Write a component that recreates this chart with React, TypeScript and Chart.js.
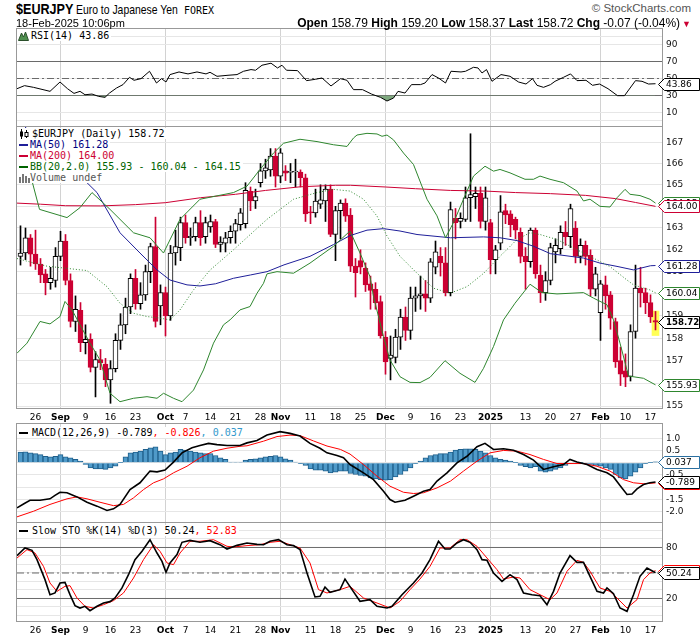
import React, { useEffect, useRef } from 'react';
import { Chart, registerables } from 'chart.js';

Chart.register(...registerables);

// ---------------- data ----------------
// Bars: trading days 2024-08-21 .. 2025-02-18 (index 0..127, Dec 25 and Jan 1 absent)
const opens = [
  161.70, 161.85, 162.55, 161.80, 161.35, 160.90, 160.50, 160.60, 161.70, 162.40,
  160.60, 158.75, 159.25, 157.80, 157.95, 156.70, 157.05, 156.85, 156.15, 156.65,
  157.90, 158.60, 159.40, 160.70, 159.55, 159.95, 161.00, 162.15, 159.45, 160.05,
  159.00, 161.85, 162.10, 163.25, 162.55, 162.60, 163.25, 162.60, 163.05, 163.30,
  162.25, 162.30, 162.55, 162.85, 163.15, 163.20, 164.70, 164.25, 165.10, 165.65,
  165.70, 166.35, 165.40, 165.65, 165.58, 165.60, 165.60, 165.33, 163.75, 163.70,
  164.10, 164.25, 164.80, 162.70, 163.80, 164.15, 163.60, 161.25, 161.50, 161.15,
  160.45, 160.20, 159.65, 158.05, 157.10, 157.15, 158.05, 158.95, 158.35, 159.80,
  159.90, 160.00, 159.80, 161.20, 161.70, 161.40, 160.05, 163.45, 163.30, 163.40,
  164.40, 164.45, 164.60, 163.30, 163.25, 161.55, 162.30, 163.80, 163.65, 163.40,
  162.80, 161.70, 161.45, 162.90, 160.85, 160.05, 160.60, 161.90, 162.05, 162.80,
  162.60, 163.00, 161.70, 162.20, 161.75, 160.20, 159.15, 160.40, 159.95, 158.75,
  157.00, 156.55, 156.30, 158.30, 160.25, 160.05, 159.60, 158.79,
];
const highs = [
  163.10, 163.00, 162.70, 162.90, 161.60, 161.10, 161.20, 162.10, 162.85, 162.70,
  160.90, 159.90, 159.60, 158.60, 158.20, 157.40, 157.50, 157.10, 157.00, 158.20,
  159.10, 159.80, 160.90, 161.10, 160.50, 161.30, 162.30, 163.50, 160.40, 160.30,
  162.20, 162.90, 163.50, 163.60, 163.00, 163.50, 163.80, 163.50, 163.60, 163.40,
  162.60, 162.80, 163.10, 163.40, 163.90, 165.10, 164.90, 164.80, 166.00, 166.20,
  166.70, 166.70, 166.70, 165.90, 166.00, 166.20, 165.70, 165.50, 164.00, 164.80,
  165.00, 165.00, 165.00, 164.00, 164.30, 164.35, 163.90, 161.60, 162.00, 161.40,
  160.80, 160.50, 159.90, 158.30, 158.10, 158.40, 159.30, 159.40, 160.30, 160.30,
  160.80, 160.60, 161.60, 162.40, 162.10, 162.10, 164.20, 163.90, 163.70, 164.90,
  167.40, 164.90, 164.90, 164.90, 163.40, 162.20, 164.50, 164.10, 163.80, 163.50,
  163.00, 162.10, 163.00, 163.00, 161.30, 161.00, 162.30, 162.50, 163.10, 163.30,
  164.10, 163.30, 162.50, 162.40, 162.00, 161.20, 160.60, 160.80, 160.10, 158.90,
  157.60, 157.30, 158.60, 161.30, 161.20, 160.25, 159.95, 159.20,
];
const lows = [
  161.30, 161.55, 161.25, 161.10, 160.50, 159.95, 160.20, 160.30, 161.50, 160.40,
  158.50, 158.30, 157.40, 157.30, 156.50, 155.40, 156.60, 155.85, 155.12, 156.50,
  157.50, 158.20, 159.10, 159.30, 159.30, 159.70, 160.50, 158.50, 158.60, 158.10,
  158.80, 161.30, 161.50, 162.30, 162.20, 162.40, 162.20, 162.30, 162.80, 162.10,
  161.90, 161.90, 162.30, 162.30, 162.90, 163.00, 163.80, 163.90, 164.90, 165.30,
  165.40, 164.90, 165.10, 165.20, 165.10, 164.90, 164.90, 163.30, 163.20, 163.50,
  163.90, 163.30, 162.60, 161.50, 162.50, 163.30, 161.00, 159.85, 160.90, 160.10,
  159.30, 159.30, 158.00, 156.40, 156.15, 156.90, 157.50, 157.90, 157.95, 159.20,
  159.30, 159.20, 159.60, 160.90, 160.80, 159.90, 159.90, 162.50, 163.00, 163.30,
  163.30, 163.90, 163.00, 162.90, 160.90, 160.90, 162.00, 163.20, 162.60, 162.50,
  161.40, 160.20, 161.20, 160.70, 159.60, 159.70, 160.40, 161.40, 161.80, 162.20,
  162.10, 161.40, 161.40, 161.30, 159.90, 159.90, 157.90, 159.30, 158.40, 156.70,
  155.90, 155.85, 156.10, 158.00, 159.40, 159.10, 158.70, 158.37,
];
const closes = [
  161.85, 162.55, 161.80, 161.35, 160.85, 160.50, 160.70, 161.70, 162.40, 160.60,
  158.75, 159.30, 157.80, 157.95, 156.70, 157.05, 156.90, 156.15, 156.65, 157.90,
  158.60, 159.40, 160.70, 159.55, 159.95, 161.00, 162.15, 158.75, 160.05, 159.00,
  161.85, 162.15, 163.25, 162.55, 162.62, 163.25, 162.55, 163.25, 163.30, 162.25,
  162.35, 162.55, 162.85, 163.20, 163.70, 164.75, 164.25, 164.45, 165.65, 165.80,
  166.35, 165.40, 166.50, 165.55, 165.62, 165.63, 165.33, 163.65, 163.70, 164.25,
  164.30, 164.80, 162.70, 163.80, 164.15, 163.55, 161.25, 160.95, 161.20, 160.40,
  160.15, 159.60, 158.10, 156.95, 157.25, 158.05, 158.95, 158.35, 159.80, 159.90,
  160.00, 159.80, 161.45, 161.90, 161.40, 160.05, 163.85, 163.25, 163.45, 164.40,
  164.55, 164.60, 163.30, 164.40, 161.55, 162.00, 163.75, 163.60, 163.15, 162.90,
  161.70, 161.45, 162.90, 160.90, 160.05, 160.60, 162.10, 162.20, 162.80, 162.60,
  163.90, 161.70, 162.20, 161.70, 160.20, 160.90, 160.45, 159.90, 158.90, 156.95,
  156.40, 156.27, 158.30, 160.25, 160.05, 159.60, 158.95, 158.72,
];

// x-axis labels (bar index -> text); month starts get a grid line and bold text
const xTickIdx = [3, 8, 13, 18, 23, 29, 33, 38, 43, 48, 52, 58, 63, 68, 73, 78, 83, 88, 94, 101, 106, 111, 116, 121, 126];
const xTickText = ['26', 'Sep', '9', '16', '23', 'Oct', '7', '14', '21', '28', 'Nov', '11', '18', '25', 'Dec', '9', '16', '23', '2025', '13', '20', '27', 'Feb', '10', '17'];
const monthIdx = [8, 29, 52, 73, 94, 116];

// overlays: [barIndex, value]
const ma200: [number, number][] = [[-0.7, 164.15], [4, 164.1], [9, 164.03], [16, 164.02], [23, 164.08], [29, 164.17], [36, 164.4], [43, 164.56], [49, 164.74], [56, 164.91], [63, 164.98], [66, 164.98], [73, 164.9], [79, 164.82], [86, 164.74], [93, 164.71], [99, 164.64], [106, 164.59], [113, 164.51], [119, 164.36], [123, 164.18], [127, 164.0]];
const ma50: [number, number][] = [[-0.7, 168.1], [0.9, 167.72], [13.3, 165.1], [15.3, 164.64], [19.9, 162.78], [23.9, 161.85], [27.3, 161.08], [29.9, 160.62], [33.3, 160.4], [35.9, 160.35], [39, 160.45], [42.6, 160.7], [46, 160.85], [49.3, 161.0], [52.7, 161.31], [57.9, 161.7], [62.6, 162.24], [65.9, 162.65], [69.3, 162.9], [72.6, 162.97], [75.9, 162.86], [79.3, 162.7], [86, 162.55], [92.6, 162.59], [95.9, 162.55], [99.3, 162.42], [102.6, 162.16], [106, 161.82], [112.6, 161.62], [115.9, 161.39], [119.3, 161.24], [122.6, 161.08], [126, 161.27], [127, 161.28]];
const bbUpper: [number, number][] = [[-0.7, 165.5], [2.3, 165.18], [3.8, 163.86], [9.3, 163.48], [11.9, 163.94], [14.3, 164.64], [17.9, 163.86], [22.6, 162.78], [25.9, 162.55], [28.6, 161.85], [31.9, 163.4], [35.9, 164.33], [42.6, 164.64], [45.3, 164.94], [47.9, 165.72], [50.6, 166.49], [52.6, 166.95], [55.9, 167.14], [59.3, 167.03], [62.6, 166.88], [65.3, 166.8], [66.6, 167.2], [67.3, 167.34], [69.3, 167.42], [71.3, 167.39], [72.3, 167.28], [73.3, 167.34], [74.6, 167.11], [76.6, 166.49], [78.6, 165.95], [81.3, 164.33], [83.3, 163.56], [85, 162.55], [86.6, 163.25], [88.6, 164.33], [90.6, 165.41], [92.9, 165.87], [94.6, 165.64], [95.9, 165.72], [97.9, 165.56], [100.9, 165.26], [102.6, 165.26], [103.9, 165.41], [105.9, 165.26], [108.6, 165.1], [111.3, 164.71], [112.6, 164.25], [113.9, 164.33], [115.9, 164.0], [117.9, 163.97], [119.3, 164.4], [120.9, 164.79], [121.9, 164.56], [123.9, 164.5], [125.9, 164.33], [127, 164.15]];
const bbMid: [number, number][] = [[-0.7, 161.6], [2.6, 161.4], [5.3, 161.25], [9.3, 161.15], [13.3, 161.05], [17.3, 160.32], [19.9, 159.57], [22.6, 159.12], [25.3, 158.97], [27.9, 158.9], [29.9, 158.82], [31.9, 159.27], [34.6, 160.17], [37.9, 161.07], [42.6, 162.0], [49.3, 163.4], [54.6, 164.33], [59.3, 164.64], [62.6, 164.79], [65.9, 164.71], [68.6, 164.33], [71.3, 163.55], [73.3, 162.63], [75.9, 161.7], [79.3, 160.93], [82.6, 160.25], [85.9, 160.02], [89.3, 160.32], [92.6, 160.92], [95.9, 161.7], [99.3, 162.47], [101.9, 162.78], [103.9, 162.7], [107.3, 162.47], [112.6, 161.85], [117.9, 161.23], [121.3, 160.62], [122.6, 160.4], [125.9, 160.17], [127, 160.04]];
const bbLower: [number, number][] = [[-0.7, 157.33], [1.3, 157.78], [3.9, 158.75], [5.9, 158.64], [7.9, 158.97], [8.9, 159.65], [10.3, 159.27], [11.9, 158.6], [13.9, 157.78], [15.9, 157.03], [17.9, 155.56], [19.9, 155.19], [22.6, 155.34], [25.3, 155.41], [27.3, 155.34], [28.6, 155.56], [30.6, 155.34], [32.3, 155.19], [34.6, 155.7], [36.6, 156.59], [38.6, 157.78], [40.6, 158.6], [41.9, 158.82], [43.9, 159.27], [45.9, 159.42], [47.3, 160.02], [48.6, 160.47], [49.3, 160.9], [51.3, 161.0], [54.6, 160.93], [57.9, 161.39], [62.6, 162.16], [65.9, 162.86], [67.9, 161.85], [69.9, 160.77], [70.6, 159.87], [72.6, 158.07], [73.9, 157.03], [75.9, 156.29], [77.9, 156.04], [79.9, 156.03], [81.9, 156.26], [84.9, 157.0], [87.9, 156.44], [90.9, 156.04], [92.6, 156.66], [94.6, 157.63], [96.6, 158.82], [98.9, 159.57], [101.9, 160.43], [104.3, 160.05], [107.3, 159.99], [112.6, 160.05], [114.6, 159.8], [117.3, 159.5], [118.6, 158.82], [119.9, 157.78], [121.6, 156.32], [124.6, 156.22], [127, 155.93]];

// RSI(14)
const rsi: [number, number][] = [[-0.7, 38.0], [0.8, 41.6], [2.6, 39.6], [5.9, 34.9], [7.9, 45.9], [9.4, 38.0], [10.7, 32.5], [11.9, 34.9], [12.9, 30.9], [14.3, 31.7], [15.6, 29.0], [16.9, 27.8], [17.8, 32.9], [19.2, 38.8], [20.5, 42.8], [21.8, 51.4], [22.7, 47.9], [24.1, 49.8], [25.8, 58.5], [27.2, 44.7], [28.2, 49.8], [29.1, 45.9], [29.9, 54.6], [31.7, 57.7], [33.5, 55.4], [35.3, 57.7], [37.1, 55.4], [37.9, 57.3], [39.3, 52.6], [41.5, 53.8], [43.3, 54.6], [44.6, 58.5], [46.1, 60.5], [47.0, 59.7], [48.3, 65.6], [50.1, 68.0], [51.4, 62.4], [52.3, 65.6], [53.2, 59.7], [55.4, 59.3], [57.2, 47.5], [59.0, 49.1], [60.3, 50.6], [62.1, 41.2], [64.0, 49.8], [65.3, 47.9], [66.6, 36.9], [68.4, 36.9], [70.2, 31.7], [72.0, 27.8], [73.3, 23.5], [74.6, 27.0], [75.5, 34.9], [76.9, 32.9], [78.2, 42.8], [80.0, 42.8], [80.9, 44.7], [82.3, 54.6], [83.6, 50.6], [85.0, 44.7], [86.1, 58.5], [88.1, 57.7], [89.0, 58.5], [90.6, 63.2], [91.5, 62.4], [92.3, 56.5], [93.2, 60.5], [94.3, 46.7], [96.1, 54.6], [97.9, 52.6], [99.6, 45.9], [101.1, 43.5], [102.4, 49.8], [103.3, 42.0], [104.6, 39.6], [106.0, 42.8], [106.9, 46.7], [108.6, 51.4], [110.0, 55.4], [111.3, 47.5], [113.1, 47.9], [114.4, 42.0], [115.8, 43.5], [117.5, 38.0], [119.4, 29.8], [120.8, 29.8], [123.0, 47.5], [124.3, 46.7], [125.6, 43.5], [127, 43.86]];
const rsiTicks = [0, 10, 30, 50, 70, 90, 100];
const rsiLabels = [10, 30, 50, 70, 90];
const rsiLevels = [30, 70];
const rsiMid = 50;

// MACD(12,26,9)
const macd: [number, number][] = [[-0.7, -1.85], [0.6, -1.69], [1.9, -1.54], [3.9, -1.54], [5.9, -1.48], [6.9, -1.34], [7.9, -1.21], [9.3, -1.23], [11.3, -1.4], [13.3, -1.62], [15.3, -1.78], [17.3, -1.96], [18.6, -1.89], [19.9, -1.71], [21.9, -1.1], [23.9, -0.82], [25.9, -0.34], [27.3, -0.37], [28.9, -0.3], [30.6, 0.03], [32.3, 0.41], [34.3, 0.62], [35.9, 0.71], [37.6, 0.8], [39.3, 0.75], [41.3, 0.71], [43.9, 0.71], [45.3, 0.82], [47.3, 0.92], [49.3, 1.14], [51.9, 1.28], [53.9, 1.21], [55.9, 1.1], [57.9, 0.8], [59.9, 0.6], [61.3, 0.41], [63.3, 0.3], [64.6, 0.21], [65.9, -0.07], [68.6, -0.41], [70.6, -0.69], [72.6, -1.17], [73.9, -1.51], [74.9, -1.62], [75.9, -1.58], [76.9, -1.54], [78.6, -1.37], [80.6, -1.17], [81.9, -1.1], [83.3, -0.75], [85.3, -0.41], [87.3, 0.0], [89.3, 0.27], [91.3, 0.66], [92.9, 0.8], [94.6, 0.55], [96.6, 0.58], [98.6, 0.52], [100.6, 0.34], [102.6, 0.11], [104.6, -0.27], [106.6, -0.16], [108.6, -0.07], [109.9, 0.14], [111.3, 0.03], [113.3, -0.07], [115.3, -0.27], [117.3, -0.41], [118.6, -0.58], [119.9, -0.93], [121.3, -1.3], [122.3, -1.28], [123.3, -1.07], [124.6, -0.89], [125.9, -0.82], [127, -0.789]];
const macdSignal: [number, number][] = [[-0.7, -2.22], [2.6, -1.99], [5.9, -1.71], [9.3, -1.48], [11.3, -1.4], [13.3, -1.48], [15.9, -1.62], [18.6, -1.76], [20.6, -1.71], [22.6, -1.44], [24.6, -1.1], [26.6, -0.82], [28.6, -0.66], [30.6, -0.41], [33.3, -0.14], [35.9, 0.21], [38.6, 0.48], [41.3, 0.6], [43.9, 0.68], [45.3, 0.7], [48.6, 0.89], [51.3, 1.08], [53.9, 1.14], [55.9, 1.12], [58.6, 0.9], [61.3, 0.69], [64, 0.55], [65.9, 0.36], [68.6, -0.07], [71.3, -0.55], [73.9, -0.96], [76.6, -1.21], [78.6, -1.26], [80.6, -1.23], [83.3, -1.03], [86, -0.75], [88.6, -0.34], [91.3, 0.07], [93.9, 0.41], [96.6, 0.51], [99.3, 0.48], [101.9, 0.34], [104.6, 0.14], [107.3, -0.03], [109.9, -0.03], [112.6, -0.03], [115.3, -0.14], [117.9, -0.34], [120.6, -0.69], [122.6, -0.82], [124.6, -0.86], [127, -0.826]];
const macdHist = [
  0.44, 0.45, 0.41, 0.38, 0.34, 0.27, 0.25, 0.27, 0.34, 0.25,
  0.21, 0.14, 0.07, -0.07, -0.21, -0.25, -0.25, -0.27, -0.21, -0.14,
  0.01, 0.25, 0.41, 0.44, 0.48, 0.55, 0.62, 0.66, 0.48, 0.34,
  0.41, 0.44, 0.55, 0.52, 0.48, 0.44, 0.41, 0.38, 0.38, 0.30,
  0.21, 0.14, 0.03, 0.03, 0.03, 0.11, 0.14, 0.16, 0.21, 0.25,
  0.27, 0.30, 0.25, 0.16, 0.11, 0.03, -0.03, -0.11, -0.25, -0.30,
  -0.30, -0.34, -0.41, -0.38, -0.34, -0.34, -0.44, -0.48, -0.52, -0.55,
  -0.62, -0.66, -0.69, -0.71, -0.69, -0.58, -0.48, -0.34, -0.21, -0.03,
  0.07, 0.21, 0.30, 0.34, 0.38, 0.38, 0.44, 0.52, 0.55, 0.58,
  0.58, 0.55, 0.48, 0.41, 0.30, 0.21, 0.14, 0.11, 0.07, 0.01,
  -0.11, -0.16, -0.21, -0.16, -0.34, -0.38, -0.34, -0.27, -0.21, -0.11,
  -0.03, -0.01, 0.01, -0.03, -0.07, -0.11, -0.14, -0.21, -0.27, -0.48,
  -0.62, -0.66, -0.55, -0.38, -0.21, -0.03, 0.01, 0.037,
];
const macdTicks = [-2, -1.5, -1, -0.5, 0, 0.5, 1];

// Slow STO %K(14) %D(3)
const stoK: [number, number][] = [[-0.7, 70.4], [0.9, 79.4], [2.3, 76.7], [3.3, 65.7], [4.9, 42.2], [5.9, 24.5], [6.9, 26.5], [7.9, 38.2], [8.9, 39.0], [9.9, 24.5], [10.9, 11.6], [11.9, 8.8], [12.9, 10.8], [13.9, 5.7], [15.3, 10.8], [16.6, 14.7], [17.9, 16.3], [18.9, 20.6], [20.3, 32.4], [21.6, 48.0], [22.9, 65.7], [24.3, 75.5], [25.9, 89.2], [27.3, 73.5], [28.3, 63.7], [29.1, 50.8], [29.9, 61.8], [31.3, 71.6], [32.3, 86.1], [33.9, 88.4], [35.9, 86.1], [37.9, 88.0], [39.9, 83.3], [41.3, 78.2], [43.3, 82.5], [45.3, 85.3], [47.3, 83.7], [48.6, 83.3], [49.9, 87.3], [51.6, 89.2], [53.3, 83.3], [54.6, 82.2], [55.9, 77.5], [57.3, 50.0], [58.9, 21.8], [59.9, 22.5], [60.9, 33.5], [61.9, 27.3], [63.9, 30.4], [64.9, 42.9], [65.9, 34.0], [67.9, 16.7], [69.9, 18.6], [71.3, 10.8], [73.3, 8.8], [74.3, 10.8], [76.3, 24.5], [78.6, 38.2], [80.3, 50.0], [81.9, 65.7], [83.6, 87.3], [84.9, 78.2], [85.9, 78.2], [87.3, 85.3], [88.6, 89.2], [89.9, 86.1], [91.3, 77.5], [92.3, 65.7], [93.3, 64.9], [94.6, 50.0], [96.3, 40.2], [97.9, 48.0], [99.3, 42.2], [100.6, 26.5], [102.3, 24.5], [103.9, 23.3], [105.3, 12.7], [106.6, 28.4], [107.9, 50.0], [109.9, 70.4], [111.3, 62.5], [112.6, 62.5], [113.9, 46.1], [115.3, 28.4], [116.6, 26.5], [117.3, 32.4], [118.6, 25.7], [119.9, 8.8], [121.3, 4.9], [122.6, 24.5], [123.9, 46.1], [125.3, 55.9], [127, 50.24]];
const stoD: [number, number][] = [[-0.7, 67.6], [1.3, 77.5], [2.9, 73.5], [4.6, 57.8], [5.9, 38.2], [7.3, 28.4], [8.9, 34.3], [9.9, 35.1], [11.3, 20.6], [12.9, 10.8], [14.6, 8.8], [16.6, 12.7], [18.6, 17.5], [20.6, 26.5], [22.6, 44.1], [24.6, 65.7], [26.6, 83.3], [27.9, 75.5], [29.3, 61.8], [30.6, 59.8], [31.9, 73.5], [33.9, 87.3], [35.9, 87.3], [38.6, 89.2], [41.3, 81.4], [42.6, 80.6], [45.3, 82.2], [47.9, 83.3], [49.9, 86.1], [51.9, 87.3], [53.9, 83.3], [55.9, 79.4], [57.9, 61.8], [59.6, 30.4], [61.3, 26.5], [63.9, 30.4], [65.9, 34.3], [68.6, 20.6], [71.3, 14.7], [73.9, 8.8], [75.9, 16.7], [77.9, 30.4], [79.9, 42.9], [81.9, 57.8], [83.9, 79.4], [85.9, 79.4], [87.9, 89.2], [89.3, 89.2], [91.3, 81.4], [93.3, 67.6], [95.3, 53.9], [96.6, 42.9], [98.6, 45.3], [99.9, 44.1], [101.9, 30.4], [103.9, 24.5], [105.9, 18.6], [107.3, 26.5], [109.3, 52.0], [111.3, 64.9], [112.6, 62.5], [113.9, 52.0], [115.9, 32.4], [117.9, 28.4], [119.3, 20.6], [121.3, 8.8], [123.3, 18.6], [124.6, 42.2], [125.9, 50.0], [127, 52.83]];
const stoTicks = [0, 10, 20, 30, 40, 50, 60, 70, 80, 90, 100];
const stoLabels = [20, 50, 80];
const stoLevels = [20, 80];
const stoMid = 50;

const priceTicks = [155, 156, 157, 158, 159, 160, 161, 162, 163, 164, 165, 166, 167];

// ---------------- styling ----------------
const X_MIN = -0.7;
const X_MAX = 128.5;
const PAD_L = 17;
const AXIS_W = 37;
const TICK_FONT = '"DejaVu Sans", sans-serif';
const MONO = '"DejaVu Sans Mono", monospace';
const SANS = '"Liberation Sans", Arial, sans-serif';
const RED = '#cc0033';
const NAVY = '#1f1f99';
const GREEN = '#2e862e';
const HIST_BLUE = '#4f9ac9';

const last = (a: [number, number][]) => a[a.length - 1][1];
const pts = (a: [number, number][]) => a.map(([x, y]) => ({ x, y }));
const hline = (v: number) => [{ x: X_MIN, y: v }, { x: X_MAX, y: v }];

const framePlugin = {
  id: 'frame',
  afterDatasetsDraw(chart: any) {
    const { ctx, chartArea: a } = chart;
    ctx.save();
    ctx.strokeStyle = '#999';
    ctx.lineWidth = 1;
    const l = Math.round(a.left) - 0.5;
    const r = Math.round(a.right) - 0.5;
    const t = Math.round(a.top) - 0.5;
    const b = Math.round(a.bottom) - 0.5;
    ctx.strokeRect(l, t, r - l, b - t);
    ctx.restore();
  },
};

const tagPlugin = {
  id: 'tags',
  afterDraw(chart: any, _args: any, opts: any) {
    const items = (opts && opts.items) || [];
    const { ctx, chartArea } = chart;
    const ys = chart.scales.y;
    const right = chartArea.right;
    ctx.save();
    for (const t of items) {
      const py = Math.round(ys.getPixelForValue(t.value)) + 0.5;
      const h = 12;
      const x0 = right - 4.5;
      const x1 = right + 1.5;
      const x2 = 699.5;
      ctx.beginPath();
      ctx.moveTo(x0, py);
      ctx.lineTo(x1, py - h / 2);
      ctx.lineTo(x2, py - h / 2);
      ctx.lineTo(x2, py + h / 2);
      ctx.lineTo(x1, py + h / 2);
      ctx.closePath();
      ctx.fillStyle = '#fff';
      ctx.fill();
      ctx.strokeStyle = t.color;
      ctx.lineWidth = 1;
      ctx.stroke();
      ctx.fillStyle = '#000';
      ctx.font = t.bold ? `bold 8.6px ${TICK_FONT}` : `9px ${TICK_FONT}`;
      ctx.textBaseline = 'middle';
      ctx.textAlign = 'left';
      ctx.fillText(t.text, x1 + 1.5, py + 0.5);
    }
    ctx.restore();
  },
};

function xAxis(showLabels: boolean) {
  return {
    type: 'linear',
    min: X_MIN,
    max: X_MAX,
    offset: false,
    afterBuildTicks: (s: any) => {
      s.ticks = (showLabels ? xTickIdx : monthIdx).map((v) => ({ value: v }));
    },
    afterFit: (s: any) => {
      s.height = showLabels ? 17 : 0;
    },
    grid: {
      offset: false,
      drawTicks: false,
      lineWidth: 1,
      color: (c: any) => (c.tick && monthIdx.includes(c.tick.value) ? '#d2d2d2' : 'rgba(0,0,0,0)'),
    },
    border: { display: false },
    ticks: {
      display: showLabels,
      autoSkip: false,
      maxRotation: 0,
      padding: 3,
      color: '#000',
      font: (c: any) => ({ family: TICK_FONT, size: 9, weight: c.tick && monthIdx.includes(c.tick.value) ? 'bold' : 'normal' }),
      callback: (v: any) => {
        const k = xTickIdx.indexOf(Number(v));
        return k >= 0 ? xTickText[k] : '';
      },
    },
  };
}

function yAxis(o: { type?: string; min: number; max: number; ticks: number[]; label: (v: number) => string }) {
  return {
    type: o.type || 'linear',
    position: 'right',
    min: o.min,
    max: o.max,
    beginAtZero: false,
    afterBuildTicks: (s: any) => {
      s.ticks = o.ticks.map((v) => ({ value: v }));
    },
    afterFit: (s: any) => {
      s.width = AXIS_W;
    },
    grid: { drawTicks: false, color: '#e6e6e6', lineWidth: 1 },
    border: { display: false },
    ticks: {
      padding: 3,
      autoSkip: false,
      color: '#111',
      font: { family: TICK_FONT, size: 9 },
      callback: (v: any) => o.label(Number(v)),
    },
  };
}

function baseOptions(y: any, showX: boolean, tags: any[]) {
  return {
    responsive: false,
    animation: false,
    events: [],
    layout: { padding: { left: PAD_L, right: 0, top: 10, bottom: showX ? 0 : 10 } },
    plugins: { legend: { display: false }, tooltip: { enabled: false }, tags: { items: tags } },
    scales: { x: xAxis(showX), y },
  };
}

const lineDs = (data: any[], color: string, width = 1, extra: any = {}) => ({
  type: 'line',
  data,
  borderColor: color,
  borderWidth: width,
  pointRadius: 0,
  tension: 0,
  fill: false,
  ...extra,
});

function rsiConfig() {
  return {
    type: 'line',
    data: {
      datasets: [
        lineDs(pts(rsi), '#000', 1, { fill: { target: { value: 30 }, above: 'rgba(0,0,0,0)', below: '#7fa97f' } }),
        ...rsiLevels.map((v) => lineDs(hline(v), '#6a6a6a', 1)),
        lineDs(hline(rsiMid), '#6a6a6a', 1, { borderDash: [7, 3, 2, 3] }),
      ],
    },
    options: baseOptions(
      yAxis({ min: -7.06, max: 108.24, ticks: rsiTicks, label: (v) => (rsiLabels.includes(v) ? String(v) : '') }),
      false,
      [{ value: last(rsi), text: last(rsi).toFixed(2), color: '#000' }]
    ),
    plugins: [framePlugin, tagPlugin],
  };
}

function mainConfig() {
  const up = opens.map((o, i) => closes[i] >= o);
  return {
    type: 'bar',
    data: {
      datasets: [
        lineDs(pts(bbUpper), GREEN, 1),
        lineDs(pts(bbMid), GREEN, 1, { borderDash: [1, 2] }),
        lineDs(pts(bbLower), GREEN, 1),
        lineDs(pts(ma50), NAVY, 1),
        lineDs(pts(ma200), RED, 1),
        {
          type: 'bar',
          data: opens.map((o, i) => ({ x: i, y: [o, closes[i]] })),
          backgroundColor: up.map((u) => (u ? '#fff' : RED)),
          borderColor: up.map((u) => (u ? '#000' : RED)),
          borderWidth: 1,
          borderSkipped: false,
          barThickness: 5,
          grouped: false,
          minBarLength: 1,
        },
        {
          type: 'bar',
          data: lows.map((l, i) => ({ x: i, y: [l, highs[i]] })),
          backgroundColor: up.map((u) => (u ? '#000' : RED)),
          borderWidth: 0,
          barThickness: 1,
          grouped: false,
        },
        {
          type: 'bar',
          data: [{ x: 127, y: [lows[127] - 0.25, highs[127] + 0.02] }],
          backgroundColor: '#ffff55',
          borderWidth: 0,
          barThickness: 7,
          grouped: false,
        },
      ],
    },
    options: baseOptions(
      yAxis({ type: 'logarithmic', min: 154.87, max: 167.72, ticks: priceTicks, label: (v) => String(v) }),
      true,
      [
        { value: last(bbUpper), text: last(bbUpper).toFixed(2), color: GREEN },
        { value: last(ma200), text: last(ma200).toFixed(2), color: RED },
        { value: last(ma50), text: last(ma50).toFixed(2), color: NAVY },
        { value: last(bbMid), text: last(bbMid).toFixed(2), color: GREEN },
        { value: last(bbLower), text: last(bbLower).toFixed(2), color: GREEN },
        { value: closes[127], text: closes[127].toFixed(2), color: '#000', bold: true },
      ]
    ),
    plugins: [framePlugin, tagPlugin],
  };
}

function macdConfig() {
  return {
    type: 'bar',
    data: {
      datasets: [
        lineDs(pts(macd), '#000', 1.6),
        lineDs(pts(macdSignal), '#ff0000', 1),
        {
          type: 'bar',
          data: macdHist.map((v, i) => ({ x: i, y: v })),
          backgroundColor: HIST_BLUE,
          borderColor: '#1f5f8b',
          borderWidth: 1,
          borderSkipped: 'start',
          barThickness: 5,
          grouped: false,
        },
      ],
    },
    options: baseOptions(
      yAxis({ min: -2.473, max: 1.596, ticks: macdTicks, label: (v) => v.toFixed(1) }),
      false,
      [
        { value: last(macdSignal), text: last(macdSignal).toFixed(3), color: '#ff0000' },
        { value: last(macd), text: last(macd).toFixed(3), color: '#000' },
        { value: macdHist[macdHist.length - 1], text: macdHist[macdHist.length - 1].toFixed(3), color: '#2a6fa0' },
      ]
    ),
    plugins: [framePlugin, tagPlugin],
  };
}

function stoConfig() {
  return {
    type: 'line',
    data: {
      datasets: [
        lineDs(pts(stoK), '#000', 1.6),
        lineDs(pts(stoD), '#ff0000', 1),
        ...stoLevels.map((v) => lineDs(hline(v), '#6a6a6a', 1)),
        lineDs(hline(stoMid), '#6a6a6a', 1, { borderDash: [7, 3, 2, 3] }),
      ],
    },
    options: baseOptions(
      yAxis({ min: -7.65, max: 108.82, ticks: stoTicks, label: (v) => (stoLabels.includes(v) ? String(v) : '') }),
      true,
      [
        { value: last(stoD), text: last(stoD).toFixed(2), color: '#ff0000' },
        { value: last(stoK), text: last(stoK).toFixed(2), color: '#000' },
      ]
    ),
    plugins: [framePlugin, tagPlugin],
  };
}

// ---------------- legend helpers ----------------
function Row(props: { top: number; icon?: any; textLeft?: number; children: any }) {
  return (
    <div
      style={{
        position: 'absolute',
        left: 17,
        top: props.top,
        height: 11,
        lineHeight: '11px',
        font: `10px ${MONO}`,
        whiteSpace: 'nowrap',
        background: '#fff',
        paddingRight: 2,
        display: 'flex',
        alignItems: 'center',
      }}
    >
      <div style={{ width: (props.textLeft || 32) - 17, height: 11, position: 'relative' }}>{props.icon}</div>
      <span>{props.children}</span>
    </div>
  );
}

const dash = (color: string) => (
  <div style={{ position: 'absolute', left: 2, top: 4.5, width: 9, height: 2, background: color }} />
);

const mountainIcon = (
  <svg width="11" height="10" style={{ position: 'absolute', left: 1, top: 1 }}>
    <polygon points="0.5,9.5 3.5,2 5.5,6 7.5,1 10.5,9.5" fill="#4f8f4f" stroke="#2a4f2a" strokeWidth="1" />
  </svg>
);
const candleIcon = (
  <svg width="12" height="10" style={{ position: 'absolute', left: 2, top: 1 }}>
    <line x1="2.5" y1="0" x2="2.5" y2="10" stroke="#000" />
    <rect x="1" y="2.5" width="3" height="5" fill="#000" />
    <line x1="7.5" y1="1" x2="7.5" y2="9" stroke="#000" />
    <rect x="6" y="3.5" width="3" height="4" fill="#fff" stroke="#000" />
  </svg>
);
const volumeIcon = (
  <svg width="12" height="10" style={{ position: 'absolute', left: 2, top: 1 }}>
    <rect x="0" y="4" width="2" height="6" fill="#777" />
    <rect x="3" y="1" width="2" height="9" fill="#777" />
    <rect x="6" y="3" width="2" height="7" fill="#777" />
    <rect x="9" y="5" width="2" height="5" fill="#777" />
  </svg>
);

export default function App() {
  const rsiRef = useRef<HTMLCanvasElement>(null);
  const mainRef = useRef<HTMLCanvasElement>(null);
  const macdRef = useRef<HTMLCanvasElement>(null);
  const stoRef = useRef<HTMLCanvasElement>(null);

  useEffect(() => {
    const charts: any[] = [];
    if (rsiRef.current) charts.push(new Chart(rsiRef.current, rsiConfig() as any));
    if (mainRef.current) charts.push(new Chart(mainRef.current, mainConfig() as any));
    if (macdRef.current) charts.push(new Chart(macdRef.current, macdConfig() as any));
    if (stoRef.current) charts.push(new Chart(stoRef.current, stoConfig() as any));
    return () => charts.forEach((c) => c.destroy());
  }, []);

  const cv = (top: number): any => ({ position: 'absolute', left: 0, top, display: 'block' });
  const squeeze = (left: number, top: number, sx: number, font: string, text: string) => (
    <div style={{ position: 'absolute', left, top, font, whiteSpace: 'nowrap', transform: `scaleX(${sx})`, transformOrigin: '0 0', color: '#000' }}>
      {text}
    </div>
  );

  return (
    <div style={{ position: 'fixed', left: 0, top: 0, width: 700, height: 639, background: '#fff', overflow: 'hidden' }}>
      <canvas ref={rsiRef} width={700} height={118} style={cv(19)} />
      <canvas ref={mainRef} width={700} height={309} style={cv(117)} />
      <canvas ref={macdRef} width={700} height={119} style={cv(414)} />
      <canvas ref={stoRef} width={700} height={126} style={cv(513)} />

      {/* header */}
      {squeeze(16, 0, 0.84, `bold 15px/18px ${SANS}`, '$EURJPY')}
      {squeeze(76, 1, 0.8, `13px/18px ${SANS}`, 'Euro to Japanese Yen')}
      <div style={{ position: 'absolute', left: 184, top: 4, font: `10px/14px ${MONO}`, whiteSpace: 'nowrap' }}>FOREX</div>
      <div style={{ position: 'absolute', right: 9, top: 1, font: `11.5px/14px ${SANS}`, color: '#555', whiteSpace: 'nowrap' }}>
        © StockCharts.com
      </div>
      <div style={{ position: 'absolute', left: 16, top: 17, font: `11px/12px ${SANS}`, whiteSpace: 'nowrap' }}>18-Feb-2025 10:06pm</div>
      <div style={{ position: 'absolute', right: 9, top: 17, font: `12px/12px ${SANS}`, whiteSpace: 'nowrap' }}>
        <b>Open</b> 158.79 <b>High</b> 159.20 <b>Low</b> 158.37 <b>Last</b> 158.72 <b>Chg</b> -0.07 (-0.04%)
        <span style={{ color: RED, fontSize: 9, marginLeft: 2 }}>▼</span>
      </div>

      {/* RSI legend */}
      <Row top={30} icon={mountainIcon} textLeft={31}>
        RSI(14) {last(rsi).toFixed(2)}
      </Row>

      {/* price legend */}
      <Row top={128} icon={candleIcon}>
        $EURJPY (Daily) {closes[127].toFixed(2)}
      </Row>
      <Row top={139} icon={dash(NAVY)} textLeft={30}>
        <span style={{ color: '#000080' }}>MA(50) {last(ma50).toFixed(2)}</span>
      </Row>
      <Row top={150} icon={dash(RED)} textLeft={30}>
        <span style={{ color: RED }}>MA(200) {last(ma200).toFixed(2)}</span>
      </Row>
      <Row top={161} icon={dash('#006400')} textLeft={30}>
        <span style={{ color: '#006400' }}>
          BB(20,2.0) {last(bbLower).toFixed(2)} - {last(bbMid).toFixed(2)} - {last(bbUpper).toFixed(2)}
        </span>
      </Row>
      <Row top={172} icon={volumeIcon} textLeft={30}>
        <span style={{ color: '#555' }}>Volume undef</span>
      </Row>

      {/* MACD legend */}
      <Row top={427} icon={dash('#000')}>
        MACD(12,26,9) {last(macd).toFixed(3)}
        <span style={{ color: '#ff0000' }}>, {last(macdSignal).toFixed(3)}</span>
        <span style={{ color: '#3399cc' }}>, {macdHist[macdHist.length - 1].toFixed(3)}</span>
      </Row>

      {/* STO legend */}
      <Row top={525} icon={dash('#000')}>
        Slow STO %K(14) %D(3) {last(stoK).toFixed(2)}
        <span style={{ color: '#ff0000' }}>, {last(stoD).toFixed(2)}</span>
      </Row>
    </div>
  );
}
